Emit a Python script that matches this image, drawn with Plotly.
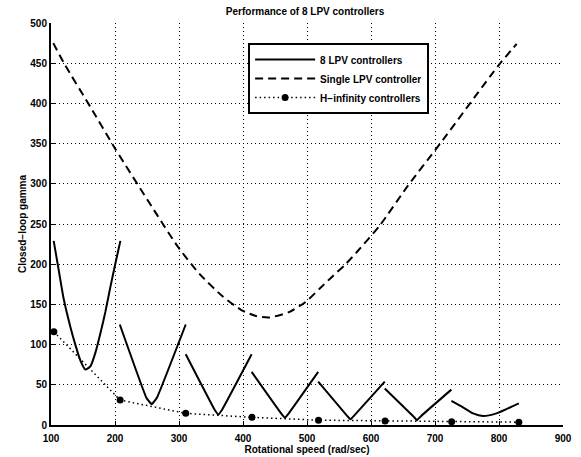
import plotly.graph_objects as go

# ---- data ----
x_ticks = [100, 200, 300, 400, 500, 600, 700, 800, 900]
y_ticks = [0, 50, 100, 150, 200, 250, 300, 350, 400, 450, 500]

# 8 LPV controllers: one curve per speed interval
seg1_x = [104.2, 112, 119.8, 130.3, 138, 146, 153.7, 161.5, 169.4, 177.2, 185, 192.8, 200.6, 208.4]
seg1_y = [229, 193, 157, 122, 100, 80, 69, 73, 90, 114, 140.8, 171.8, 200.9, 229]
seg2_x = [207.5, 249, 257.3, 265.5, 310.5]
seg2_y = [125, 34, 26, 34, 125]
seg3_x = [310.5, 355, 361.4, 368, 413.5]
seg3_y = [88, 20, 13, 20, 88]
seg4_x = [413.5, 459, 465.5, 472, 517.5]
seg4_y = [66, 15, 9, 15, 66]
seg5_x = [517.5, 562, 568, 574, 621.5]
seg5_y = [54, 12, 7, 12, 54]
seg6_x = [621.5, 666, 672, 678, 725.6]
seg6_y = [45.5, 11, 6, 11, 44]
seg7_x = [725.6, 743.8, 759.4, 775, 796, 814, 831]
seg7_y = [30, 22, 14.5, 11.2, 14.5, 20.7, 27]

# Single LPV controller
single_x = [103.6, 121, 162, 200, 266, 298.4, 332, 369, 397.5, 421, 441.7,
            473, 498, 520, 536, 559, 580, 614, 658, 708, 799, 827.6]
single_y = [475, 449, 395, 344, 261, 221.5, 188, 159.4, 143, 135.4, 133.8,
            140.8, 153.2, 169.8, 182, 199, 217, 248.5, 298, 350, 447, 474]

# H-infinity controllers
hinf_x = [104.5, 208, 310.5, 414, 518, 622, 726, 831]
hinf_y = [116, 31, 14.5, 9.5, 6, 5, 4, 3.5]


def join(segs):
    xs, ys = [], []
    for sx, sy in segs:
        xs += list(sx) + [None]
        ys += list(sy) + [None]
    return xs, ys


curved_x, curved_y = join([(seg1_x, seg1_y), (seg7_x, seg7_y)])
vee_x, vee_y = join([(seg2_x, seg2_y), (seg3_x, seg3_y), (seg4_x, seg4_y),
                     (seg5_x, seg5_y), (seg6_x, seg6_y)])

FONT = "Liberation Sans"
BOLD = dict(family=FONT, size=10, color="black", weight="bold")

fig = go.Figure()
fig.add_trace(go.Scatter(x=curved_x, y=curved_y, mode="lines", name="8 LPV controllers",
                         legendgroup="lpv",
                         line=dict(color="black", width=2, shape="spline", smoothing=0.6),
                         connectgaps=False))
fig.add_trace(go.Scatter(x=vee_x, y=vee_y, mode="lines", name="8 LPV controllers",
                         legendgroup="lpv", showlegend=False,
                         line=dict(color="black", width=2, shape="spline", smoothing=0.3),
                         connectgaps=False))
fig.add_trace(go.Scatter(x=single_x, y=single_y, mode="lines", name="Single LPV controller",
                         line=dict(color="black", width=2, dash="8px,5px",
                                   shape="spline", smoothing=0.6)))
fig.add_trace(go.Scatter(x=hinf_x, y=hinf_y, mode="lines+markers", name="H\u2212infinity controllers",
                         line=dict(color="black", width=1.5, dash="1.5px,3px"),
                         marker=dict(color="black", size=7)))

axis_common = dict(
    showgrid=True, gridcolor="black", gridwidth=1, griddash="1px,3px",
    showline=True, linecolor="black", linewidth=2, mirror=False,
    ticks="inside", ticklen=4, tickcolor="black", zeroline=False,
    tickfont=BOLD, automargin=False,
)

fig.update_layout(
    width=581, height=457,
    margin=dict(l=51, r=18, t=23, b=32),
    paper_bgcolor="white", plot_bgcolor="white",
    title=dict(text="Performance of 8 LPV controllers", x=0.525, xanchor="center",
               y=0.983, yanchor="top", font=BOLD),
    xaxis=dict(range=[100, 900], tickvals=x_ticks, ticktext=[str(v) for v in x_ticks],
               ticklabelstandoff=3,
               title=dict(text="Rotational speed (rad/sec)", standoff=1, font=BOLD),
               **axis_common),
    yaxis=dict(range=[0, 500], tickvals=y_ticks, ticktext=[str(v) for v in y_ticks],
               title=dict(text="Closed\u2212loop gamma", standoff=2, font=BOLD),
               **axis_common),
    legend=dict(x=0.385, y=0.95, xanchor="left", yanchor="top",
                bgcolor="white", bordercolor="black", borderwidth=2,
                font=BOLD, tracegroupgap=0, itemwidth=60, entrywidth=195),
    showlegend=True,
)

fig.write_html("out.html")
